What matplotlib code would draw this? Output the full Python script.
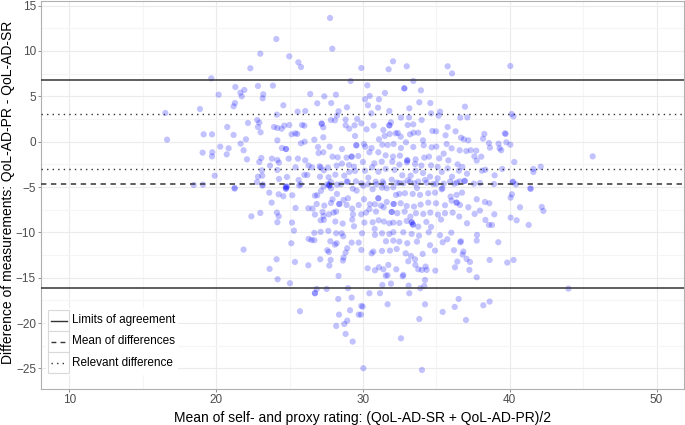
import numpy as np
import matplotlib.pyplot as plt
from matplotlib.lines import Line2D
from matplotlib.patches import Rectangle

# Bland-Altman plot: self- vs proxy rating of QoL-AD

# (mean of ratings, difference), grouped by region
pts_left = [
    (16.54, 3.16), (18.9, 3.6), (16.66, 0.22), (18.47, -4.77),
]

pts_upper_mid = [
    (27.76, 13.64), (24.10, 11.32), (27.91, 10.25), (23.01, 9.70), (24.98, 9.41),
    (25.60, 8.75), (25.78, 8.23), (22.33, 8.09), (19.67, 6.98), (29.16, 6.69),
    (21.31, 6.03), (22.85, 6.14), (23.87, 6.18), (20.17, 5.18), (21.65, 5.40),
    (21.92, 5.70), (23.21, 5.22), (21.74, 5.00), (23.17, 4.78), (26.41, 5.26),
    (27.37, 5.00), (28.16, 5.18), (21.28, 4.26), (21.19, 3.90), (24.58, 4.01),
    (27.84, 4.26), (25.55, 3.31), (26.07, 3.38), (26.89, 4.23),
    (28.34, 3.35), (28.91, 3.79), (24.14, 2.98), (22.80, 2.39), (22.94, 2.10),
    (22.17, 2.06), (20.76, 1.62), (22.85, 1.62), (23.94, 1.62), (24.17, 1.51),
    (24.46, 1.43), (24.64, 1.77), (24.98, 1.84), (23.03, 1.03), (19.15, 0.81),
    (19.72, 0.81), (21.19, 0.74), (25.14, 0.81), (25.39, 0.92), (25.53, 0.85),
    (25.85, 1.84), (26.01, 1.77), (27.19, 1.99), (27.19, 1.99), (27.30, 1.58),
    (27.82, 2.39), (28.09, 2.35), (28.23, 2.87), (28.82, 2.43), (28.82, 1.80),
    (29.07, 1.43), (29.43, 1.80), (29.61, 2.50), (22.03, 0.26), (21.67, -0.22),
    (24.17, 0.15), (25.78, -0.18), (26.03, 0.00), (26.69, 0.22), (27.30, 0.48),
    (29.46, 0.63), (29.55, -0.40), (29.55, -0.40), (20.28, -0.55), (20.85, -0.73),
    (24.48, -0.70), (24.76, -0.81), (24.76, -0.81), (19.08, -1.21), (19.74, -1.17),
    (21.87, -0.95), (19.72, -1.62), (20.72, -1.40), (23.08, -1.80), (22.10, -1.95),
    (23.80, -1.87), (24.17, -2.02), (24.28, -2.31), (24.94, -1.87), (25.57, -1.87),
    (26.07, -2.06), (26.94, -0.59), (26.98, -1.25), (27.30, -1.17), (27.73, -0.55),
    (27.93, -1.65), (28.28, -1.73), (28.57, -0.81), (28.89, -1.76), (29.23, -1.65),
    (29.23, -1.65), (29.68, -1.58), (26.53, -2.83), (26.30, -2.64), (27.05, -2.72),
    (27.12, -2.86), (27.34, -3.16), (27.62, -2.86), (28.21, -2.64), (28.57, -2.42),
    (29.05, -2.57), (29.39, -2.76), (22.94, -2.24), (23.67, -2.64), (23.12, -3.16),
    (23.14, -3.75), (22.78, -4.45), (22.85, -3.86), (24.17, -3.12), (24.28, -4.11),
    (24.82, -3.89), (25.41, -2.83), (26.01, -3.67), (26.21, -3.67), (25.62, -4.22),
    (27.07, -3.86), (27.66, -3.93), (28.12, -3.64), (28.73, -3.75), (29.07, -3.34),
    (29.46, -3.23), (19.90, -3.75), (21.26, -5.18), (23.19, -4.74), (24.80, -4.96),
    (24.80, -4.96), (25.76, -4.70), (27.59, -4.70), (27.70, -4.70), (27.82, -4.45),
    (28.96, -4.41), (29.52, -4.37),
]

pts_upper_right = [
    (32.05, 8.86), (31.75, 7.98), (29.89, 8.12), (32.98, 8.31), (35.77, 8.31),
    (36.07, 7.53), (40.04, 8.34), (33.43, 6.69), (30.30, 6.21), (32.82, 5.88),
    (32.82, 5.88), (33.95, 5.66), (31.50, 5.37), (30.14, 4.67), (30.46, 5.04),
    (31.09, 4.67), (33.84, 4.34), (34.59, 4.26), (30.34, 4.01), (33.16, 3.68),
    (36.95, 3.86), (31.03, 3.75), (30.57, 3.12), (31.80, 3.38), (34.64, 3.12),
    (35.25, 3.31), (35.16, 2.87), (32.59, 2.65), (33.14, 2.68), (34.00, 2.39),
    (36.63, 2.65), (37.11, 2.68), (40.13, 3.05), (40.26, 2.79), (29.89, 2.02),
    (30.25, 1.36), (30.73, 1.77), (31.91, 2.13), (31.80, 1.80), (31.80, 1.80),
    (33.05, 1.84), (33.43, 1.91), (31.39, 1.29), (32.23, 0.92), (31.09, 0.26),
    (31.48, 0.63), (31.82, 0.85), (32.37, 0.96), (32.57, 0.55), (33.21, 0.81),
    (33.45, 0.99), (33.77, 0.99), (34.09, 0.15), (34.73, 1.18), (34.98, 1.14),
    (35.77, 1.62), (36.31, 1.14), (35.63, 0.70), (36.68, 0.44), (36.88, 0.26),
    (37.18, 0.15), (38.27, 0.85), (38.18, 0.33), (39.67, 0.92), (39.72, 0.85),
    (39.24, -0.22), (39.77, -0.07), (40.04, -0.33), (30.07, -0.26), (30.16, -0.55),
    (30.59, -0.70), (31.32, -0.33), (31.68, -0.37), (32.09, -0.26), (32.59, -0.70),
    (32.93, -0.07), (33.43, -0.59), (34.14, -0.40), (34.68, -0.62), (35.00, -0.55),
    (35.70, -0.26), (36.04, -0.73), (36.59, -0.95), (37.04, -1.03), (37.34, -0.95),
    (37.72, -0.99), (37.59, -1.62), (37.75, -2.09), (38.06, -1.65), (38.58, -0.15),
    (38.65, -0.66), (39.31, -0.73), (39.42, -0.95), (40.31, -2.24), (30.44, -1.17),
    (31.05, -1.17), (31.55, -1.51), (32.05, -1.65), (32.52, -1.54), (33.02, -2.06),
    (33.02, -2.06), (33.59, -1.95), (34.18, -1.76), (34.50, -1.65), (35.20, -1.84),
    (35.50, -1.32), (35.82, -2.06), (30.00, -2.24), (30.78, -2.39), (31.28, -2.20),
    (32.00, -2.20), (32.48, -2.53), (33.00, -2.28), (33.55, -2.46), (33.98, -2.64),
    (34.64, -2.61), (35.09, -2.79), (35.77, -2.94), (36.45, -2.50), (36.77, -2.79),
    (37.09, -3.53), (36.54, -3.20), (38.11, -3.20), (38.34, -3.09), (38.97, -3.71),
    (39.49, -3.01), (40.22, -4.41), (40.42, -4.70), (30.14, -3.20), (30.62, -2.83),
    (31.05, -3.31), (31.55, -3.01), (32.16, -3.12), (32.68, -3.71), (33.25, -3.75),
    (33.59, -3.20), (34.09, -3.45), (34.57, -3.86), (35.09, -4.04), (35.37, -3.34),
    (36.07, -3.86), (36.59, -4.37), (36.95, -4.33), (30.37, -3.97), (30.87, -4.41),
    (31.39, -4.63), (31.96, -4.19), (32.48, -4.56), (33.05, -4.26), (33.50, -4.59),
    (34.23, -4.22), (35.00, -4.63), (35.50, -4.63), (36.22, -4.63), (37.56, -4.63),
    (37.97, -4.56), (38.93, -4.67), (30.03, -4.85), (31.30, -5.07), (33.68, -5.11),
    (35.41, -5.14),
    (41.61, -3.01), (41.61, -3.34), (42.11, -2.76), (45.65, -1.62), (41.40, -5.14),
]

pts_lower_mid = [
    (19.10, -4.73), (21.26, -5.10), (23.14, -4.84), (24.73, -5.03), (24.76, -5.18),
    (24.76, -5.18), (25.66, -4.84), (23.62, -5.62), (24.26, -5.80), (24.58, -6.02),
    (25.19, -5.91), (23.78, -6.72), (22.40, -8.23), (23.01, -7.86), (24.14, -7.82),
    (24.26, -8.23), (24.17, -8.89), (25.41, -7.31), (25.17, -8.92), (25.30, -9.81),
    (25.12, -11.20), (21.87, -11.90), (24.12, -12.97), (25.37, -13.26), (23.64, -14.03),
    (24.19, -15.17), (25.03, -15.61), (26.28, -7.34), (26.57, -7.38), (26.85, -6.87),
    (26.73, -5.95), (26.89, -5.91), (27.14, -5.43), (27.32, -4.96), (27.71, -4.84),
    (27.71, -4.84), (27.82, -5.14), (28.23, -4.73), (28.50, -4.70), (28.89, -4.40),
    (29.30, -5.18), (29.57, -5.40), (28.23, -5.76), (27.93, -6.35), (27.82, -6.76),
    (27.37, -7.05), (27.25, -7.75), (27.32, -8.19), (27.68, -8.01), (28.00, -7.82),
    (28.18, -7.71), (28.39, -6.87), (28.39, -6.87), (28.68, -6.43), (28.98, -6.24),
    (28.89, -6.98), (29.27, -7.38), (29.32, -8.01), (29.71, -6.98), (26.73, -8.04),
    (27.12, -8.67), (27.34, -8.63), (28.12, -8.81), (28.62, -9.03), (29.27, -8.59),
    (29.39, -9.33), (26.69, -10.06), (27.12, -9.95), (27.64, -9.84), (28.18, -10.10),
    (28.55, -10.10), (28.66, -10.43), (28.21, -11.20), (28.09, -11.35), (27.78, -10.98),
    (26.30, -10.72), (26.50, -10.84), (26.69, -10.87), (29.23, -11.13), (29.71, -11.13),
    (28.93, -11.75), (28.82, -12.23), (27.57, -11.97), (27.68, -12.16), (28.68, -12.78),
    (28.64, -13.11), (27.80, -13.04), (27.09, -12.97), (26.28, -13.63), (27.71, -13.66),
    (28.34, -14.80), (26.85, -16.24), (26.73, -16.71), (26.73, -16.71), (27.53, -16.24),
    (28.98, -16.16), (28.32, -17.34), (29.23, -17.19), (25.71, -18.70), (28.37, -19.07),
    (29.12, -18.59), (28.18, -20.32), (28.73, -20.10), (28.93, -19.73), (28.82, -21.20),
    (29.30, -22.04), (29.71, -19.07),
]

pts_lower_right = [
    (29.89, -4.59), (30.37, -4.66), (30.91, -4.70), (31.34, -4.40), (32.30, -4.51),
    (32.75, -4.59), (33.21, -4.44), (33.77, -4.40), (34.34, -4.51), (34.79, -4.66),
    (35.93, -4.40), (36.41, -4.51), (36.91, -4.33), (40.20, -4.48), (30.66, -5.25),
    (31.05, -6.24), (31.05, -6.24), (31.62, -5.14), (32.07, -5.03), (32.25, -5.87),
    (32.48, -5.76), (32.86, -5.69), (33.39, -5.76), (33.89, -5.87), (34.45, -5.69),
    (34.91, -5.62), (35.36, -5.25), (35.97, -6.06), (36.38, -5.87), (36.75, -5.62),
    (30.07, -6.35), (30.48, -6.90), (30.82, -6.90), (31.23, -7.05), (31.62, -6.65),
    (32.09, -6.87), (32.09, -6.87), (32.57, -6.79), (32.98, -7.09), (33.48, -7.16),
    (33.93, -6.94), (34.45, -6.72), (34.98, -6.79), (35.59, -7.01), (36.04, -6.50),
    (36.38, -6.72), (36.38, -6.72), (36.61, -6.98), (37.18, -7.23), (37.75, -6.35),
    (38.31, -6.65), (38.61, -6.79), (40.06, -6.17), (40.15, -5.80), (29.89, -8.01),
    (30.21, -7.82), (30.44, -7.45), (30.89, -7.71), (31.41, -7.23), (31.96, -7.75),
    (31.96, -7.75), (32.34, -7.89), (32.84, -7.71), (33.23, -8.26), (33.61, -7.89),
    (34.11, -7.97), (34.59, -7.82), (35.11, -8.04), (35.59, -7.89), (36.11, -7.82),
    (36.56, -8.26), (37.09, -9.00), (37.61, -7.97), (37.97, -7.60), (38.34, -8.63),
    (38.58, -9.18), (38.79, -9.18), (38.95, -8.01), (40.06, -8.37), (40.47, -8.67),
    (30.10, -8.92), (30.66, -8.89), (31.07, -8.67), (31.43, -8.81), (31.80, -9.00),
    (32.07, -8.92), (32.48, -8.96), (32.98, -8.74), (33.32, -8.89), (33.32, -8.89),
    (33.41, -9.14), (33.41, -9.14), (33.77, -9.37), (34.32, -8.85), (34.64, -9.40),
    (35.32, -8.59), (36.02, -10.03), (36.63, -11.09), (36.68, -10.98), (29.94, -10.10),
    (30.80, -9.62), (30.82, -10.28), (31.30, -10.10), (31.80, -10.17), (32.07, -9.99),
    (32.75, -9.99), (33.32, -10.17), (33.82, -10.36), (34.48, -9.99), (35.25, -10.32),
    (35.75, -10.76), (35.43, -11.09), (37.77, -10.28), (37.75, -10.91), (39.22, -11.09),
    (31.57, -10.98), (32.07, -10.91), (32.48, -11.02), (33.02, -11.20), (33.68, -11.02),
    (34.57, -11.42), (34.91, -12.01), (29.89, -11.94), (30.71, -12.12), (30.59, -12.31),
    (31.30, -12.05), (31.84, -12.01), (32.30, -11.83), (32.91, -12.31), (33.27, -12.60),
    (33.09, -13.19), (33.55, -12.97), (34.07, -12.38), (36.20, -11.97), (36.84, -12.12),
    (36.79, -12.45), (37.06, -12.93), (36.43, -13.22), (37.29, -13.26), (36.27, -13.85),
    (38.63, -13.04), (39.83, -13.33), (40.26, -13.04), (30.32, -13.96), (30.82, -14.18),
    (31.09, -13.85), (31.39, -14.07), (31.73, -13.59), (31.55, -14.77), (31.68, -14.73),
    (32.27, -14.07), (32.75, -14.69), (32.71, -14.84), (33.57, -13.59), (33.77, -14.07),
    (34.02, -14.14), (34.27, -13.77), (34.34, -14.14), (34.93, -14.22), (37.25, -14.14),
    (37.75, -14.95), (31.32, -15.80), (31.91, -15.65), (33.11, -15.87), (33.91, -16.16),
    (34.23, -15.25), (34.18, -15.91), (30.44, -16.71), (31.16, -16.71), (33.16, -16.71),
    (29.89, -18.11), (29.98, -18.19), (29.87, -19.07), (31.68, -17.93), (34.23, -17.93),
    (36.52, -17.34), (36.25, -18.22), (35.43, -18.77), (37.02, -19.66), (38.20, -18.04),
    (38.63, -17.63), (33.84, -19.55), (32.59, -21.68), (30.03, -24.98), (34.02, -25.17),
    (41.43, -5.21), (40.70, -7.23), (42.18, -7.20), (42.29, -7.64), (41.29, -9.18),
    (44.00, -16.20),
]

mean_diff = -4.7
loa_upper = 6.75
loa_lower = -16.15
relevant_diff = 3.0

all_pts = np.array(pts_left + pts_upper_mid + pts_upper_right + pts_lower_mid + pts_lower_right)
x = all_pts[:, 0]
y = all_pts[:, 1]

plt.rcParams['font.family'] = ['Liberation Sans', 'DejaVu Sans']

W, H = 685, 425
fig = plt.figure(figsize=(W / 100, H / 100), dpi=100)
ax = fig.add_axes([40.7 / W, 1 - 389 / H, (684 - 40.7) / W, (389 - 1) / H])

ax.set_xlim(8.05, 51.87)
ax.set_ylim(-27.27, 15.51)

# grid like ggplot theme_bw
ax.set_xticks([10, 20, 30, 40, 50])
ax.set_yticks([-25, -20, -15, -10, -5, 0, 5, 10, 15])
ax.set_xticks([15, 25, 35, 45], minor=True)
ax.set_yticks(np.arange(-22.5, 15, 5), minor=True)
ax.grid(which='major', color='#EBEBEB', lw=0.8)
ax.grid(which='minor', color='#F5F5F5', lw=0.8)
ax.set_axisbelow(True)
ax.tick_params(which='minor', length=0)
ax.tick_params(which='major', length=2.2, width=0.6, color='#7F7F7F',
               labelsize=8.5, labelcolor='#4D4D4D', pad=1.2)
for s in ax.spines.values():
    s.set_color('#B0B0B0')
    s.set_linewidth(0.8)

ax.scatter(x, y, s=20, color='blue', alpha=0.24, edgecolors='none', zorder=2)

ax.axhline(loa_upper, color='#333333', lw=1.1, zorder=3)
ax.axhline(loa_lower, color='#333333', lw=1.1, zorder=3)
ax.axhline(mean_diff, color='#333333', lw=1.1, ls=(0, (3.5, 3)), zorder=3)
ax.axhline(relevant_diff, color='#333333', lw=1.0, ls=(0, (1, 3)), zorder=3)
ax.axhline(-relevant_diff, color='#333333', lw=1.0, ls=(0, (1, 3)), zorder=3)

def fx(px):
    return px / W

def fy(py):
    return 1 - py / H

ax.set_xlabel("Mean of self- and proxy rating: (QoL-AD-SR + QoL-AD-PR)/2", fontsize=10, labelpad=4)
fig.text(fx(8.5), fy(192.5), "Difference of measurements: QoL-AD-PR - QoL-AD-SR",
         rotation=90, ha='center', va='center', fontsize=10)

# legend drawn by hand, ggplot style keys
fig.add_artist(Rectangle((fx(46), fy(375)), fx(178) - fx(46), fy(308) - fy(375),
                         transform=fig.transFigure, facecolor='white', edgecolor='none', zorder=5))
labels = ["Limits of agreement", "Mean of differences", "Relevant difference"]
styles = ['-', (0, (3.5, 3)), (0, (1, 3))]
for i, (lab, ls) in enumerate(zip(labels, styles)):
    top = 310 + 21 * i
    fig.add_artist(Rectangle((fx(48.3), fy(top + 21)), fx(69.3) - fx(48.3), fy(top) - fy(top + 21),
                             transform=fig.transFigure, facecolor='white', edgecolor='#D9D9D9',
                             lw=0.8, zorder=6))
    fig.add_artist(Line2D([fx(50.5), fx(67)], [fy(top + 10.5)] * 2, transform=fig.transFigure,
                          color='#333333', lw=1.0, ls=ls, zorder=7))
    fig.text(fx(72.5), fy(top + 10.5), lab, fontsize=8.5, va='center', ha='left', zorder=7)

fig.savefig("out.png", dpi=100)
